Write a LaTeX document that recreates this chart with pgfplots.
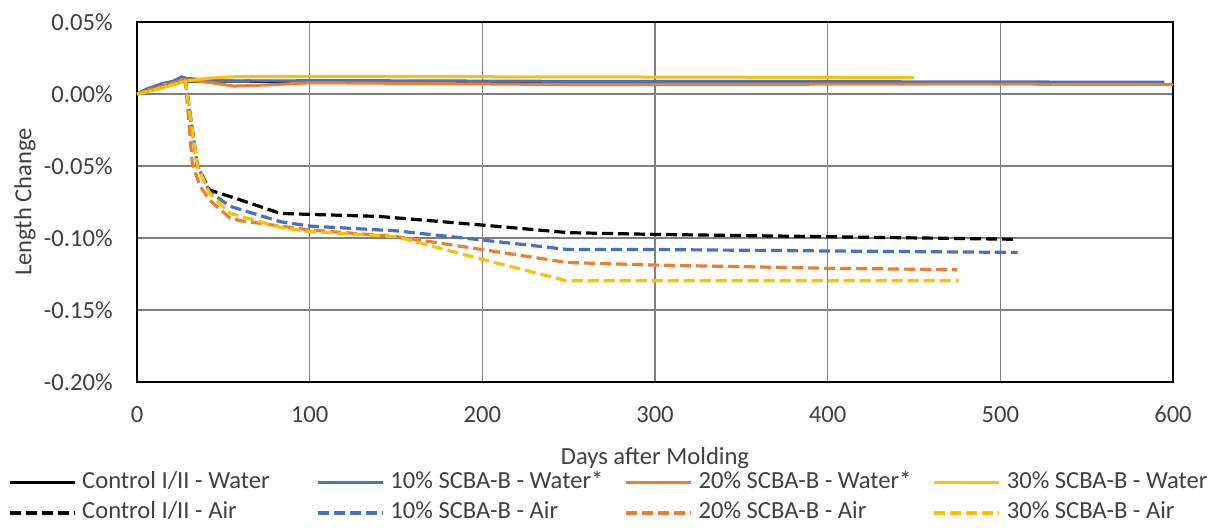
\documentclass[border=0pt]{standalone}
\usepackage{fontspec}
\setmainfont{Carlito}
\usepackage{pgfplots}
\pgfplotsset{compat=1.18}
\definecolor{cBlue}{HTML}{4472C4}
\definecolor{cOrange}{HTML}{ED7D31}
\definecolor{cYellow}{HTML}{FFC000}
\definecolor{gridgray}{RGB}{128,128,128}
\definecolor{textgray}{HTML}{404040}
\newcommand{\LE}[1]{\makebox[114pt][l]{#1}}
\begin{document}
\fontsize{12.3pt}{14.5pt}\selectfont
\begin{tikzpicture}
\path[use as bounding box] (-68.5pt,-72.5pt) rectangle (537pt,191pt);
\begin{axis}[
  at={(0,0)}, anchor=south west,
  scale only axis, width=518pt, height=180pt,
  xmin=0, xmax=600, ymin=-0.2, ymax=0.05,
  xtick={0,100,200,300,400,500,600},
  xticklabels={0,100,200,300,400,500,600},
  ytick={-0.2,-0.15,-0.1,-0.05,0,0.05},
  yticklabels={-0.20\%,-0.15\%,-0.10\%,-0.05\%,0.00\%,0.05\%},
  tick style={draw=none},
  grid=major,
  major grid style={color=gridgray, line width=0.75pt},
  axis line style={black, line width=0.8pt},
  xticklabel style={anchor=base, inner sep=0pt, yshift=-20pt, text=textgray},
  yticklabel style={anchor=east, inner sep=0pt, xshift=-12pt, text=textgray},
  xlabel={Days after Molding},
  ylabel={Length Change},
  xlabel style={at={(axis description cs:0.5,0)}, anchor=base, inner sep=0pt, yshift=-41pt, text=textgray},
  ylabel style={at={(axis description cs:-0.1081,0.5)}, anchor=center, inner sep=0pt, text=textgray},
  legend columns=4,
  legend style={
    at={(axis description cs:-0.1245,-0.2444)}, anchor=north west,
    draw=none, fill=none, inner sep=0pt, outer sep=0pt,
    /tikz/every even column/.style={column sep=0pt},
    /tikz/every odd column/.style={column sep=0pt},
    nodes={inner xsep=3pt, inner ysep=1pt, text height=8.5pt, text depth=2.5pt, anchor=west, text=textgray},
    row sep=2pt,
  },
  legend image code/.code={\draw[#1] (0pt,0pt) -- (32.5pt,0pt);},
  solid line/.style={line width=1.5pt, line join=round},
  dash line/.style={line width=1.6pt, dash pattern=on 5.5pt off 2.5pt, line join=round},
]
% Water series
\addplot[solid line, black] coordinates {
(0,0) (7,0.004) (14,0.006) (28,0.009) (42,0.009) (56,0.009) (90,0.0085) (112,0.0085) (150,0.008) (200,0.008) (250,0.008) (300,0.008) (380,0.008)};
\addlegendentry{\LE{Control I/II - Water}}
\addplot[solid line, cBlue] coordinates {
(0,0) (7,0.004) (14,0.007) (21,0.009) (26,0.012) (28,0.011) (42,0.0095) (56,0.009) (90,0.0092) (112,0.0093) (150,0.0092) (200,0.009) (250,0.0088) (300,0.0087) (350,0.0087) (400,0.0086) (450,0.0085) (500,0.0084) (595,0.0082)};
\addlegendentry{\LE{10\% SCBA-B - Water*}}
\addplot[solid line, cOrange] coordinates {
(0,0) (7,0.003) (14,0.006) (28,0.010) (42,0.008) (56,0.0055) (70,0.006) (100,0.0078) (140,0.0075) (200,0.007) (250,0.0065) (300,0.0066) (400,0.0068) (500,0.0068) (600,0.0067)};
\addlegendentry{\LE{20\% SCBA-B - Water*}}
\addplot[solid line, cYellow] coordinates {
(0,0) (7,0.002) (14,0.004) (28,0.009) (42,0.011) (56,0.012) (100,0.0122) (150,0.0122) (200,0.012) (300,0.0118) (400,0.0115) (450,0.0113)};
\addlegendentry{\LE{30\% SCBA-B - Water}}
% Air series
\addplot[dash line, black] coordinates {
(0,0) (14,0.005) (28,0.009) (35,-0.05) (42,-0.0667) (56,-0.072) (83,-0.0829) (100,-0.0836) (140,-0.085) (200,-0.091) (250,-0.0963) (300,-0.0975) (400,-0.0991) (510,-0.1009)};
\addlegendentry{\LE{Control I/II - Air}}
\addplot[dash line, cBlue] coordinates {
(0,0) (14,0.006) (28,0.010) (35,-0.05) (42,-0.068) (54,-0.078) (83,-0.0887) (100,-0.0917) (150,-0.095) (200,-0.1014) (249,-0.1079) (300,-0.108) (400,-0.109) (510,-0.110)};
\addlegendentry{\LE{10\% SCBA-B - Air}}
\addplot[dash line, cOrange] coordinates {
(0,0) (14,0.005) (28,0.010) (32,-0.048) (36.5,-0.064) (42,-0.0736) (54,-0.0863) (60,-0.088) (100,-0.0944) (150,-0.099) (200,-0.108) (249,-0.117) (300,-0.1188) (400,-0.121) (475,-0.122)};
\addlegendentry{\LE{20\% SCBA-B - Air}}
\addplot[dash line, cYellow] coordinates {
(0,0) (14,0.004) (28,0.009) (35,-0.05) (42,-0.069) (54,-0.0829) (83,-0.0926) (100,-0.0956) (150,-0.099) (200,-0.1148) (249,-0.1297) (300,-0.1297) (400,-0.1297) (476,-0.1297)};
\addlegendentry{\LE{30\% SCBA-B - Air}}
\end{axis}
\end{tikzpicture}
\end{document}
